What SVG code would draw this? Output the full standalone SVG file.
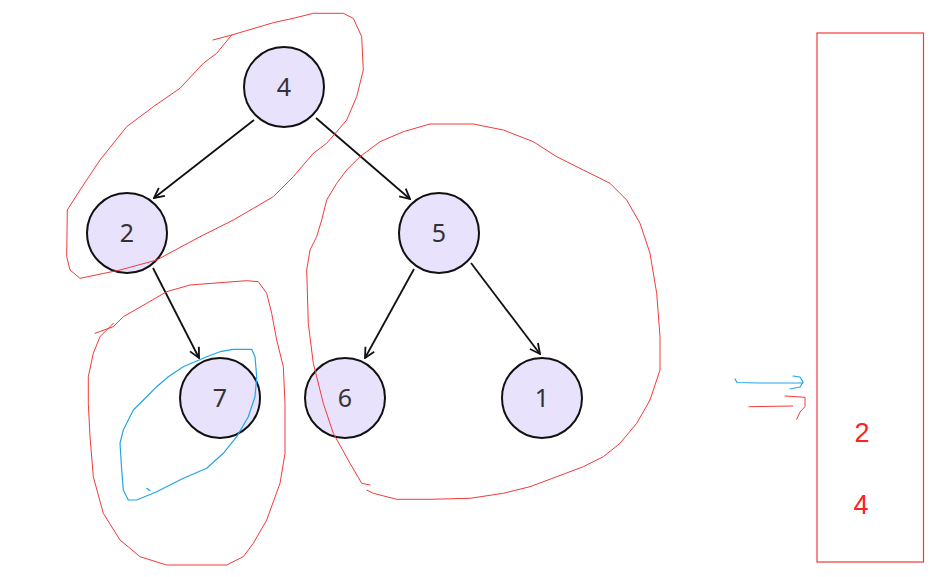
<svg xmlns="http://www.w3.org/2000/svg" width="942" height="577" viewBox="0 0 942 577">
<style>
.node circle{fill:#E8E2FC;stroke:#111;stroke-width:2}
.node text{font-family:"Noto Sans","DejaVu Sans",sans-serif;font-size:25px;fill:#333;text-anchor:middle}
.edge{stroke:#111;stroke-width:1.8;fill:none;marker-end:url(#arr)}
.red{stroke:#F23A3A;stroke-width:1;fill:none;stroke-linejoin:round;stroke-linecap:round}
.blue{stroke:#22A6E6;stroke-width:1.2;fill:none;stroke-linejoin:round;stroke-linecap:round}
.stack{font-family:"Liberation Sans",Arial,sans-serif;font-size:27px;fill:#F22;text-anchor:middle}
</style>
<defs>
<marker id="arr" viewBox="0 0 12 12" refX="11" refY="6" markerWidth="12" markerHeight="12" markerUnits="userSpaceOnUse" orient="auto">
<path d="M1,1 L11,6 L1,11" fill="none" stroke="#111" stroke-width="1.8"/>
</marker>
</defs>
<rect width="942" height="577" fill="#fff"/>
<g id="connectors">
<line class="edge" x1="254" y1="120" x2="154" y2="198"/>
<line class="edge" x1="316" y1="118" x2="410" y2="199"/>
<line class="edge" x1="153" y1="268" x2="199" y2="358"/>
<line class="edge" x1="414" y1="269" x2="365" y2="358"/>
<line class="edge" x1="471" y1="263" x2="540" y2="354"/>
</g>
<g id="node-4" class="node"><circle cx="284" cy="87" r="40"/><text x="284" y="96">4</text></g>
<g id="node-2" class="node"><circle cx="127" cy="233" r="40"/><text x="127" y="242">2</text></g>
<g id="node-5" class="node"><circle cx="439" cy="233" r="40"/><text x="439" y="242">5</text></g>
<g id="node-7" class="node"><circle cx="220" cy="398" r="40"/><text x="220" y="407">7</text></g>
<g id="node-6" class="node"><circle cx="345" cy="398" r="40"/><text x="345" y="407">6</text></g>
<g id="node-1" class="node"><circle cx="542" cy="398" r="40"/><text x="542" y="407">1</text></g>
<g id="annotations">
<polyline class="red" points="213,40 231.7,35 273.3,22.7 293.3,18.3 313.3,13.3 343.3,13.3 353.3,18.3 361.7,36.7 363.3,70 356.7,96.7 346.7,120 326.7,143.3 313.3,153.3 293.3,176.7 273.3,196.7 233.3,220 200,236.7 156.7,260 120,270 80,278.3 70,270 66.7,256.7 67.3,210 80,190 100,160 126.7,126.7 153.3,106.7 180,88.3 203.3,63.3 216.7,53.3 231.7,35"/>
<polyline class="red" points="95,333.3 113.3,326.7 123.3,316.7 146.7,303.3 166.7,291.7 190,285 220,282.7 246.7,280.7 258.3,281.7 266.7,293.3 271.7,313.3 276.7,340 283.3,366.7 285,403.3 285,453.3 280,483.3 266.7,520 253.3,543.3 243.3,556.7 226.7,565 166.7,565 140,556.7 120,540 103.3,513.3 93.3,476.7 90,436.7 88.3,403.3 88.3,376.7 93.3,353.3 100,336.7 113.3,323.3"/>
<polyline class="red" points="370,485 361.7,483.3 350,463.3 333.3,433.3 323.3,403.3 313.3,363.3 308.3,323.3 306.7,270 310,250 316.7,236.7 321.7,220 326.7,200 336.7,183.3 346.7,170 360,156.7 380,141.7 403.3,131.7 430,124 473.3,124 503.3,130 533.3,141.7 556.7,156.7 583.3,170 610,183.3 626.7,200 640,223.3 650,253.3 656.7,293.3 660,336.7 660,370 650,400 636.7,423.3 620,443.3 603.3,456.7 583.3,466.7 556.7,476.7 530,486.7 503.3,493.3 470,498.3 430,499.3 396.7,499.3 373.3,493.3 366.7,490"/>
<polyline class="blue" points="168.3,376.7 183.3,366.7 206.7,356.7 220,351.7 233.3,349.3 251.7,349.3 255,356.7 256.7,376.7 255,396.7 248.3,416.7 236.7,436.7 223.3,453.3 206.7,468.3 183.3,478.3 156.7,491.7 136.7,500 128.3,500 123.3,490 121.7,470 120,443.3 123.3,430 133.3,410 146.7,396.7 156.7,386.7 168.3,376.7"/>
<line class="blue" x1="146.7" y1="488.3" x2="150" y2="490.7"/>
<polyline class="blue" points="735,379 737,382.5 760,383 803,383"/>
<polyline class="blue" points="793,376 800,377 803,382 800,387 790,389"/>
<polyline class="red" points="749,406.7 792.7,406"/>
<polyline class="red" points="785,396 805,397.3 805,406.7 800,412 796.7,419.3"/>
</g>
<g id="stack">
<rect x="817" y="33" width="106.5" height="529" fill="none" stroke="#F23A3A" stroke-width="1.2"/>
<text class="stack" x="862" y="442">2</text>
<text class="stack" x="861" y="514">4</text>
</g>
</svg>
